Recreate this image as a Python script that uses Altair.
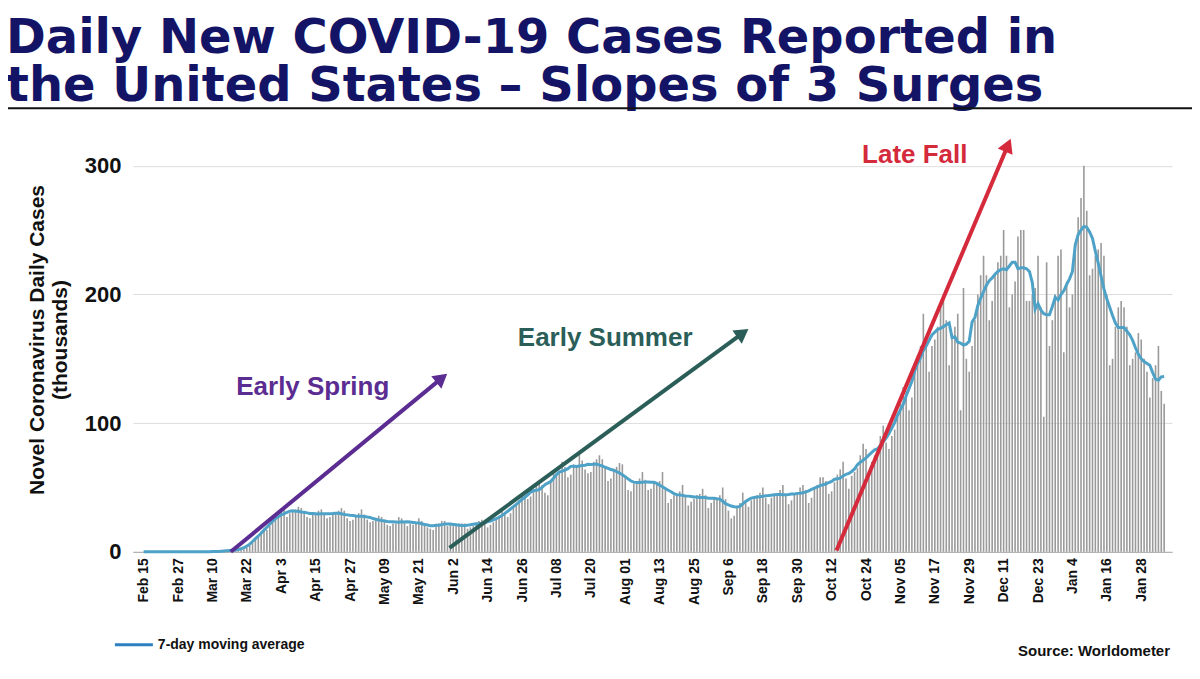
import altair as alt
import pandas as pd

tick_labels = ["Feb 15","Feb 27","Mar 10","Mar 22","Apr 3","Apr 15","Apr 27","May 09","May 21","Jun 2",
               "Jun 14","Jun 26","Jul 08","Jul 20","Aug 01","Aug 13","Aug 25","Sep 6","Sep 18","Sep 30",
               "Oct 12","Oct 24","Nov 05","Nov 17","Nov 29","Dec 11","Dec 23","Jan 4","Jan 16","Jan 28"]

weeks = [
 [0,0,0,0,0,0,0],[0,0,0,0,0,0,0],[0,0,0,0,0.01,0.01,0.02],[0.05,0.1,0.1,0.1,0.2,0.3,0.4],
 [0.6,0.7,1.0,1.2,1.5,1.8,2.0],[2,3,5,7,10,13,16],[18,17,20,24,26,29,32],[33,27,30,31,33,35,34],
 [31,27,26,29,30,32,33],[30,26,27,29,30,32,34],[32,26,24,25,28,30,33],[29,25,23,24,25,28,27],
 [25,21,20,22,22,27,26],[24,20,22,21,23,26,24],[22,19,18,17,20,22,24],[24,20,21,20,20,22,22],
 [22,18,19,20,22,24,25],[25,19,21,23,26,28,32],[31,27,30,35,38,40,45],[43,41,43,47,51,55,52],
 [46,44,55,62,60,63,70],[66,58,60,68,67,76,71],[64,61,62,70,72,75,72],[66,55,57,63,66,69,68],
 [58,48,47,53,54,57,62],[56,48,49,54,54,55,62],[50,38,41,44,45,47,52],[44,36,39,41,44,45,49],
 [44,34,38,41,41,44,50],[41,32,26,28,34,38,46],[40,35,40,41,44,46,50],[42,37,42,44,45,48,52],
 [44,37,40,45,46,50,52],[48,38,42,50,52,58,58],[55,45,47,54,60,64,70],[57,49,59,62,65,75,84],
 [80,62,70,75,80,90,98],[85,80,90,95,105,120,128],[125,110,120,140,145,160,185],
 [165,140,160,165,175,190,200],[180,145,170,175,185,110,205],[150,140,160,180,200,215,230],
 [215,180,195,215,225,230,250],[230,190,200,210,245,250,250],[195,195,200,205,230,190,105],
 [225,160,180,200,230,235,155],[210,190,200,235,260,275,300],[265,215,220,230,235,240,230],
 [200,145,150,175,190,195,190],[175,145,150,155,170,165,150],[140,120,135,145,160,125,115]]
cases = [v for w in weeks for v in w]
df = pd.DataFrame({"day": list(range(len(cases))), "cases": cases})

arrows = pd.DataFrame({
    "name": ["spring", "summer", "fall"],
    "x": [30.4, 106.7, 241.7], "y": [0, 3, 1],
    "x2": [104, 209, 301.5], "y2": [135, 170, 316],
    "color": ["#5B2C91", "#2B5E58", "#D42A3C"],
    "angle": [51, 54.4, 23.4],
})
labels = pd.DataFrame({
    "text": ["Early Spring", "Early Summer", "Late Fall"],
    "x": [59, 161, 269], "y": [128, 166, 308],
    "color": ["#5B2C91", "#2B5E58", "#D42A3C"],
})

W, H = 1040, 425
xs = alt.Scale(domain=[-2, 357])
ys = alt.Scale(domain=[0, 330])
label_arr = "[" + ",".join("'%s'" % l for l in tick_labels) + "]"

xaxis = alt.Axis(
    values=list(range(0, 349, 12)), labelExpr=label_arr + "[round(datum.value/12)]",
    title=None, labelAngle=270, labelAlign="right", labelBaseline="middle", labelOverlap=False,
    labelFont="Liberation Sans", labelFontWeight="bold", labelFontSize=14, labelColor="#111",
    grid=False, ticks=False, domainColor="#aaa", labelPadding=6)
yaxis = alt.Axis(
    values=[0, 100, 200, 300], title=["Novel Coronavirus Daily Cases", "(thousands)"],
    titleFont="Liberation Sans", titleFontSize=21, titleFontWeight="bold", titleColor="#111",
    titlePadding=14, labelFont="Liberation Sans", labelFontSize=22, labelFontWeight="bold",
    labelColor="#111", gridColor="#dddddd", domain=False, ticks=False, labelPadding=12)

base = alt.Chart(df)
bars = base.mark_bar(color="#9a9a9a", size=1.6).encode(
    x=alt.X("day:Q", scale=xs, axis=xaxis), y=alt.Y("cases:Q", scale=ys, axis=yaxis))
line = base.transform_window(avg="mean(cases)", frame=[-3, 3]).mark_line(
    color="#4EA2C8", strokeWidth=3).encode(x=alt.X("day:Q", scale=xs, axis=xaxis),
                                           y=alt.Y("avg:Q", scale=ys, axis=yaxis))

arrow_lines = alt.Chart(arrows).mark_rule(strokeWidth=4).encode(
    x=alt.X("x:Q", scale=xs, axis=xaxis), y=alt.Y("y:Q", scale=ys, axis=yaxis), x2="x2:Q", y2="y2:Q",
    color=alt.Color("color:N", scale=None))
heads = alt.Chart(arrows).mark_point(shape="triangle-up", filled=True, size=260, opacity=1).encode(
    x=alt.X("x2:Q", scale=xs, axis=xaxis), y=alt.Y("y2:Q", scale=ys, axis=yaxis),
    color=alt.Color("color:N", scale=None), angle=alt.Angle("angle:Q", scale=None))
texts = alt.Chart(labels).mark_text(font="Liberation Sans", fontSize=26, fontWeight="bold", align="center").encode(
    x=alt.X("x:Q", scale=xs, axis=xaxis), y=alt.Y("y:Q", scale=ys, axis=yaxis), text="text:N",
    color=alt.Color("color:N", scale=None))

anno = pd.DataFrame({"t": [0]})
tfont = dict(font="DejaVu Sans", fontSize=48, fontWeight="bold", color="#141466", align="left", baseline="alphabetic")
title1 = alt.Chart(anno).mark_text(text="Daily New COVID-19 Cases Reported in", **tfont).encode(
    x=alt.value(-127), y=alt.value(-74))
title2 = alt.Chart(anno).mark_text(text="the United States \u2013 Slopes of 3 Surges", **tfont).encode(
    x=alt.value(-127), y=alt.value(-26))
hr = alt.Chart(anno).mark_rule(color="#111", strokeWidth=2).encode(
    x=alt.value(-133), x2=alt.value(1067), y=alt.value(-19))
leg_line = alt.Chart(anno).mark_rule(color="#2E7FC0", strokeWidth=3).encode(
    x=alt.value(-18), x2=alt.value(20), y=alt.value(518))
leg_text = alt.Chart(anno).mark_text(text="7-day moving average", font="Liberation Sans", fontSize=14,
    fontWeight="bold", color="#111", align="left").encode(x=alt.value(25), y=alt.value(518))
src = alt.Chart(anno).mark_text(text="Source:  Worldometer", font="Liberation Sans", fontSize=15,
    fontWeight="bold", color="#111", align="right").encode(x=alt.value(1038), y=alt.value(524))

chart = alt.layer(bars, line, arrow_lines, heads, texts, title1, title2, hr, leg_line, leg_text, src).properties(
    width=W, height=H, autosize=alt.AutoSizeParams(type="none"),
    padding={"left": 125, "top": 119, "right": 20, "bottom": 120},
    view=alt.ViewBackground(stroke="white", strokeWidth=0)
).configure_view(stroke="white", strokeWidth=0).configure_axisX(labelOverlap=False).configure(background="white")

chart.save("out.html", embed_options={"renderer": "svg", "actions": False})
